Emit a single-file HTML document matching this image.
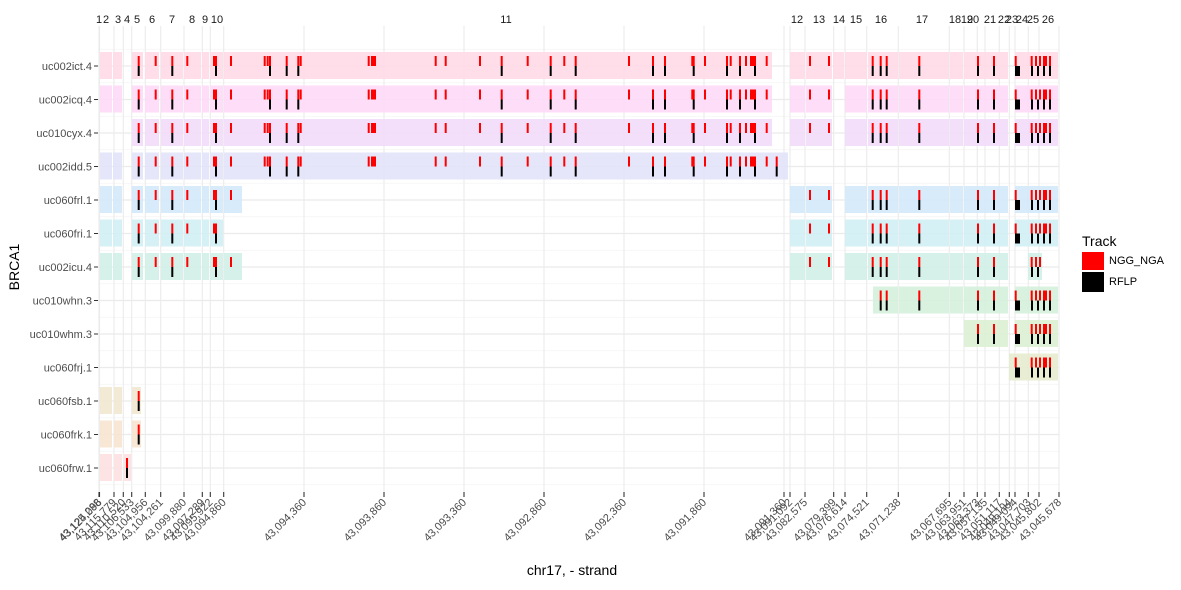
<!DOCTYPE html>
<html><head><meta charset="utf-8"><style>
body{margin:0;background:#fff;font-family:"Liberation Sans",sans-serif}
</style></head><body>
<svg id="c" width="1181" height="585" xmlns="http://www.w3.org/2000/svg" font-family="Liberation Sans, sans-serif"></svg>
<script>
const transcripts=["uc002ict.4","uc002icq.4","uc010cyx.4","uc002idd.5","uc060frl.1","uc060fri.1","uc002icu.4","uc010whn.3","uc010whm.3","uc060frj.1","uc060fsb.1","uc060frk.1","uc060frw.1"];
const colors=["#ffd9e7","#fdd9f6","#f3dcfb","#e3e3fb","#d3e9fb","#d2eff5","#d2f0e8","#d5efdb","#dbefd3","#e6ebcf","#f1e8cf","#f8e4d0","#fde0e0"];
const early=[[100,112],[113,122],[132,143],[145,159],[161,183],[184,201],[202,209],[210,223]];
const mid=[[790,805],[806,832]];
const late=[[845,867],[868,898],[899,949],[950,963],[964,1008],[1015,1058]];
const exonsByRow=[
 early.concat([[224,772]],mid,[[833,844]],late),
 early.concat([[224,772]],mid,late),
 early.slice(2).concat([[224,772]],mid,late),
 early.concat([[224,788]]),
 early.concat([[224,242]],mid,late),
 early.concat(mid,late),
 early.concat([[224,242]],mid,late.slice(0,5),[[1028,1042]]),
 [[873,898],[899,949],[950,963],[964,1008],[1015,1058]],
 [[964,1008],[1015,1058]],
 [[1009,1058]],
 [[100,112],[114,122],[132,141]],
 [[100,112],[114,122],[132,141]],
 [[100,112],[114,122],[124,131]]
];
const redPos=[127,138.7,155.7,172.3,187.3,214,216,231,264.7,267.7,270,286.7,298.3,300.7,368.7,372,373.5,375,435.7,445.7,480,501.7,527.7,550.7,564.3,575.7,629,653,665,692.3,693.7,705,727,730.7,740,746,751,753,755,766.7,776.7,810,829,872.7,880.7,886.7,919.3,978,994,1015.7,1031.7,1036,1040,1044,1046,1050];
const blackPos=[127,138.7,172.3,216,270,286.7,298.3,501.7,550.7,575.7,653,665,693.7,727,740,755,776.7,872.7,880.7,886.7,919.3,978,994,1016,1017.5,1019,1032,1038,1044,1050];
const exonLabels=["1","2","3","4","5","6","7","8","9","10","11","12","13","14","15","16","17","18","19","20","21","22","23","24","25","26"];
const exonLabelPos=[99,106,118,127,137,152,172,192,205,217,506,797,819,839,856,881,922,955,967,973,990,1004,1012,1022,1033,1048];
const tickPos=[99,99.5,114,123.3,131.7,145.3,160.7,184,202.3,210.3,223.7,304,384,464,544,624,704,784,790,805,833.7,845,866.7,898.3,949.3,964,977.3,985,999.3,1009.3,1015,1028.3,1039,1059];
const tickLabels=["43,125,288","43,124,096","43,115,779","43,110,520","43,106,533","43,104,956","43,104,261","43,099,880","43,097,289","43,095,922","43,094,860","43,094,360","43,093,860","43,093,360","43,092,860","43,092,360","43,091,860","43,091,360","43,091,092","43,082,575","43,079,399","43,076,614","43,074,521","43,071,238","43,067,695","43,063,951","43,063,373","43,057,135","43,051,117","43,049,194","43,049,094","43,047,703","43,045,802","43,045,678"];

const NS="http://www.w3.org/2000/svg";
const svg=document.getElementById('c');
const L=98,R=1059,T=26,B=492;
const dMin=98,dMax=1059;
function x(v){return L+(v-dMin)/(dMax-dMin)*(R-L);}
function yRow(i){return 66+i*33.5;}
function mk(tag,attrs,parent){const e=document.createElementNS(NS,tag);for(const k in attrs)e.setAttribute(k,attrs[k]);(parent||svg).appendChild(e);return e;}

const grid=mk('g',{});


for(let i=0;i<transcripts.length;i++){
  mk('line',{x1:L,x2:R,y1:yRow(i),y2:yRow(i),stroke:'#ebebeb','stroke-width':1.2},grid);
  mk('line',{x1:L,x2:R,y1:yRow(i)+16.75,y2:yRow(i)+16.75,stroke:'#f4f4f4','stroke-width':0.8},grid);
}
mk('line',{x1:L,x2:R,y1:yRow(0)-16.75,y2:yRow(0)-16.75,stroke:'#f4f4f4','stroke-width':0.8},grid);
tickPos.forEach(p=>mk('line',{x1:x(p),x2:x(p),y1:T,y2:B,stroke:'#ebebeb','stroke-width':1.1},grid));

transcripts.forEach((t,i)=>{
  const g=mk('g',{});
  
  
  const yc=yRow(i);
  exonsByRow[i].forEach(e=>{
    const r=mk('rect',{x:x(e[0]),y:yc-14,width:x(e[1])-x(e[0]),height:27,fill:colors[i],'fill-opacity':0.9},g);
    
    
  });
  const inside=p=>exonsByRow[i].some(e=>p>=e[0]&&p<=e[1]);
  redPos.filter(inside).forEach(p=>{
    const r=mk('rect',{x:x(p)-1,y:yc-10,width:2,height:10,fill:'#ff0000'},g);
    
    
  });
  blackPos.filter(inside).forEach(p=>{
    const r=mk('rect',{x:x(p)-1,y:yc,width:2,height:10,fill:'#000'},g);
    
    
  });
  const lb=mk('text',{x:92,y:yc+4,'text-anchor':'end','font-size':11,fill:'#4d4d4d'});
  lb.textContent=t;
  
  
  mk('line',{x1:94,x2:98,y1:yc,y2:yc,stroke:'#333','stroke-width':1});
});

exonLabels.forEach((s,i)=>{
  const t=mk('text',{x:x(exonLabelPos[i]),y:23,'text-anchor':'middle','font-size':11,fill:'#1a1a1a'});
  t.textContent=s;
  
  
});

tickPos.forEach((p,i)=>{
  mk('line',{x1:x(p),x2:x(p),y1:492,y2:497,stroke:'#333','stroke-width':1.1});
  const t=mk('text',{x:x(p)+3,y:503,'text-anchor':'end','font-size':11,fill:'#4d4d4d',transform:`rotate(-45 ${x(p)+3} 503)`});
  t.textContent=tickLabels[i];
  
  
});
</script>
<div style="position:absolute;left:0;top:0;width:1181px;height:585px;pointer-events:none">
<div style="position:absolute;left:472px;top:562px;width:200px;text-align:center;font-size:14px;color:#000">chr17, - strand</div>
<div style="position:absolute;left:-36px;top:259px;width:100px;text-align:center;font-size:14px;transform:rotate(-90deg)">BRCA1</div>
<div style="position:absolute;left:1082px;top:233px;font-size:11px">
<div style="font-size:14px;margin-bottom:2px">Track</div>
<div style="display:flex;align-items:center;height:19px"><span style="display:inline-block;width:22px;height:18px;background:#ff0000;margin-right:5px"></span>NGG_NGA</div>
<div style="display:flex;align-items:center;height:21px;margin-top:1px"><span style="display:inline-block;width:22px;height:20px;background:#000;margin-right:5px"></span>RFLP</div>
</div>
</div>
</body></html>
